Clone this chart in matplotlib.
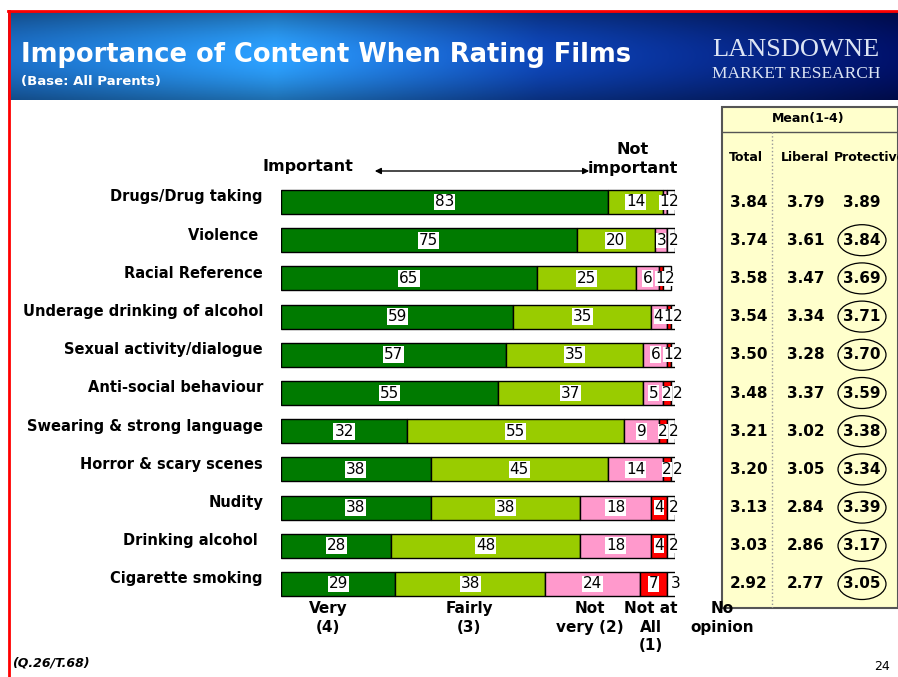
import numpy as np
import matplotlib
matplotlib.use("Agg")
import matplotlib.pyplot as plt
from matplotlib.patches import Ellipse, Rectangle, FancyArrowPatch

# data
categories = ["Drugs/Drug taking", "Violence ", "Racial Reference",
              "Underage drinking of alcohol", "Sexual activity/dialogue",
              "Anti-social behaviour", "Swearing & strong language",
              "Horror & scary scenes", "Nudity", "Drinking alcohol ",
              "Cigarette smoking"]
very = [83, 75, 65, 59, 57, 55, 32, 38, 38, 28, 29]
fairly = [14, 20, 25, 35, 35, 37, 55, 45, 38, 48, 38]
not_very = [1, 3, 6, 4, 6, 5, 9, 14, 18, 18, 24]
not_at_all = [0, 0, 1, 1, 1, 2, 2, 2, 4, 4, 7]
no_opinion = [2, 2, 2, 2, 2, 2, 2, 2, 2, 2, 3]

mean_total = ["3.84", "3.74", "3.58", "3.54", "3.50", "3.48", "3.21", "3.20", "3.13", "3.03", "2.92"]
mean_liberal = ["3.79", "3.61", "3.47", "3.34", "3.28", "3.37", "3.02", "3.05", "2.84", "2.86", "2.77"]
mean_protective = ["3.89", "3.84", "3.69", "3.71", "3.70", "3.59", "3.38", "3.34", "3.39", "3.17", "3.05"]
circled = [False] + [True] * 10

series = [very, fairly, not_very, not_at_all, no_opinion]
colors = ["#007A00", "#99CC00", "#FF99CC", "#FF0000", "#FFFFFF"]
scale_labels = ["Very\n(4)", "Fairly\n(3)", "Not\nvery (2)", "Not at\nAll\n(1)", "No\nopinion"]

W, H = 898, 677
fig = plt.figure(figsize=(W / 100, H / 100), dpi=100)
fig.patch.set_facecolor("white")


def px_axes(x0, y0, x1, y1, **kw):
    # axes placed by pixel box (top-left origin)
    return fig.add_axes([x0 / W, 1 - y1 / H, (x1 - x0) / W, (y1 - y0) / H], **kw)


def ftext(x, y, s, **kw):
    fig.text(x / W, 1 - y / H, s, **kw)


# ---- banner ----
bax = px_axes(8, 12, 898, 100)
t = np.linspace(0, 1, 400)
r = np.interp(t, [0, 0.3, 0.6, 1], [0.10, 0.16, 0.05, 0.0])
g = np.interp(t, [0, 0.3, 0.6, 1], [0.40, 0.58, 0.25, 0.06])
b = np.interp(t, [0, 0.3, 0.6, 1], [0.72, 0.92, 0.66, 0.38])
v = np.linspace(0, 1, 60)
shade = 0.75 + 0.35 * np.sin(np.pi * v)[:, None]
img = np.clip(np.stack([r, g, b], -1)[None, :, :] * shade[:, :, None], 0, 1)
bax.imshow(img, aspect="auto", extent=[0, 1, 0, 1])
bax.set_axis_off()

# red frame lines
fig.add_artist(plt.Line2D([8 / W, 1], [1 - 11 / H, 1 - 11 / H], color="red", lw=2))
fig.add_artist(plt.Line2D([9 / W, 9 / W], [0, 1 - 11 / H], color="red", lw=2))

ftext(21, 55, "Importance of Content When Rating Films", color="white",
      fontsize=18.5, fontweight="bold", va="center", ha="left")
ftext(21, 82, "(Base: All Parents)", color="white", fontsize=9.5,
      fontweight="bold", va="center", ha="left")
ftext(712, 50, "LANSDOWNE", color="#DCE4F4", fontsize=19,
      family="Liberation Serif", va="center", ha="left")
ftext(712, 74, "MARKET RESEARCH", color="#DCE4F4", fontsize=12.5,
      family="Liberation Serif", va="center", ha="left")

# ---- stacked bars ----
row0, step = 202, 38.2
top_px = row0 - step / 2
bot_px = row0 + step * 10.5
ax = px_axes(281, top_px, 675, bot_px)
y = np.arange(len(categories))
left = np.zeros(len(categories))
starts = []
for vals, col in zip(series, colors):
    vals = np.array(vals, dtype=float)
    ax.barh(y, vals, left=left, height=0.63, color=col,
            edgecolor="black", linewidth=1)
    starts.append(left.copy())
    left += vals

# labels: centred in segment, small ones pushed left so they don't collide
gap = 2.4
for yi in range(len(categories)):
    nxt = None
    for k in range(len(series) - 1, -1, -1):
        v_ = series[k][yi]
        if v_ <= 0:
            continue
        xc = starts[k][yi] + v_ / 2
        if k == len(series) - 1:
            xc += 0.6
        if nxt is not None:
            xc = min(xc, nxt - gap)
        nxt = xc
        small = v_ < 5
        ax.text(xc, yi, str(int(v_)), ha="center", va="center",
                fontsize=11, color="black",
                bbox=dict(boxstyle="square,pad=0.0" if small else "square,pad=0.06",
                          fc="white", ec="none"))
ax.set_xlim(0, 100)
ax.set_ylim(len(categories) - 0.5, -0.5)
ax.set_axis_off()

for i, name in enumerate(categories):
    ftext(263, row0 + step * i - 5, name, ha="right", va="center",
          fontsize=10.5, fontweight="bold")

# header above bars
ftext(262, 166, "Important", ha="left", va="center", fontsize=11.5, fontweight="bold")
ftext(633, 159, "Not\nimportant", ha="center", va="center", fontsize=11.5,
      fontweight="bold", linespacing=1.25)
fig.add_artist(FancyArrowPatch(
    (372 / W, 1 - 171 / H), (592 / W, 1 - 171 / H), transform=fig.transFigure,
    arrowstyle="<|-|>", mutation_scale=9, color="black", lw=1))

# scale labels under bars
scale_x = [328, 469, 590, 651, 722]
for sx, lab in zip(scale_x, scale_labels):
    ftext(sx, 601, lab, ha="center", va="top", fontsize=11,
          fontweight="bold", linespacing=1.3)

# ---- mean table ----
tx0, ty0, tx1, ty1 = 722, 107, 898, 608
tab = px_axes(tx0, ty0, tx1, ty1)
tab.set_xlim(tx0, tx1)
tab.set_ylim(ty1, ty0)
tab.set_axis_off()
tab.add_patch(Rectangle((tx0, ty0), tx1 - tx0, ty1 - ty0, facecolor="#FFFFCC",
                        edgecolor="#555555", lw=1.5, clip_on=False))
tab.plot([tx0, tx1], [132, 132], color="#555555", lw=1)
tab.plot([772, 772], [132, ty1], color="#999999", lw=1, ls=":")
tab.text(808, 118, "Mean(1-4)", ha="center", va="center", fontsize=9, fontweight="bold")
tab.text(746, 157, "Total", ha="center", va="center", fontsize=9, fontweight="bold")
tab.text(805, 157, "Liberal", ha="center", va="center", fontsize=9, fontweight="bold")
tab.text(834, 157, "Protective", ha="left", va="center", fontsize=9,
         fontweight="bold", clip_on=True)
for i in range(len(categories)):
    yy = row0 + step * i
    tab.text(749, yy, mean_total[i], ha="center", va="center", fontsize=11, fontweight="bold")
    tab.text(806, yy, mean_liberal[i], ha="center", va="center", fontsize=11, fontweight="bold")
    tab.text(862, yy, mean_protective[i], ha="center", va="center", fontsize=11, fontweight="bold")
    if circled[i]:
        tab.add_patch(Ellipse((862, yy), 48, 31, fill=False, edgecolor="black", lw=0.9))

ftext(12, 663, "(Q.26/T.68)", ha="left", va="center", fontsize=9,
      fontweight="bold", style="italic")
ftext(890, 666, "24", ha="right", va="center", fontsize=9)

fig.savefig("out.png", dpi=100)
